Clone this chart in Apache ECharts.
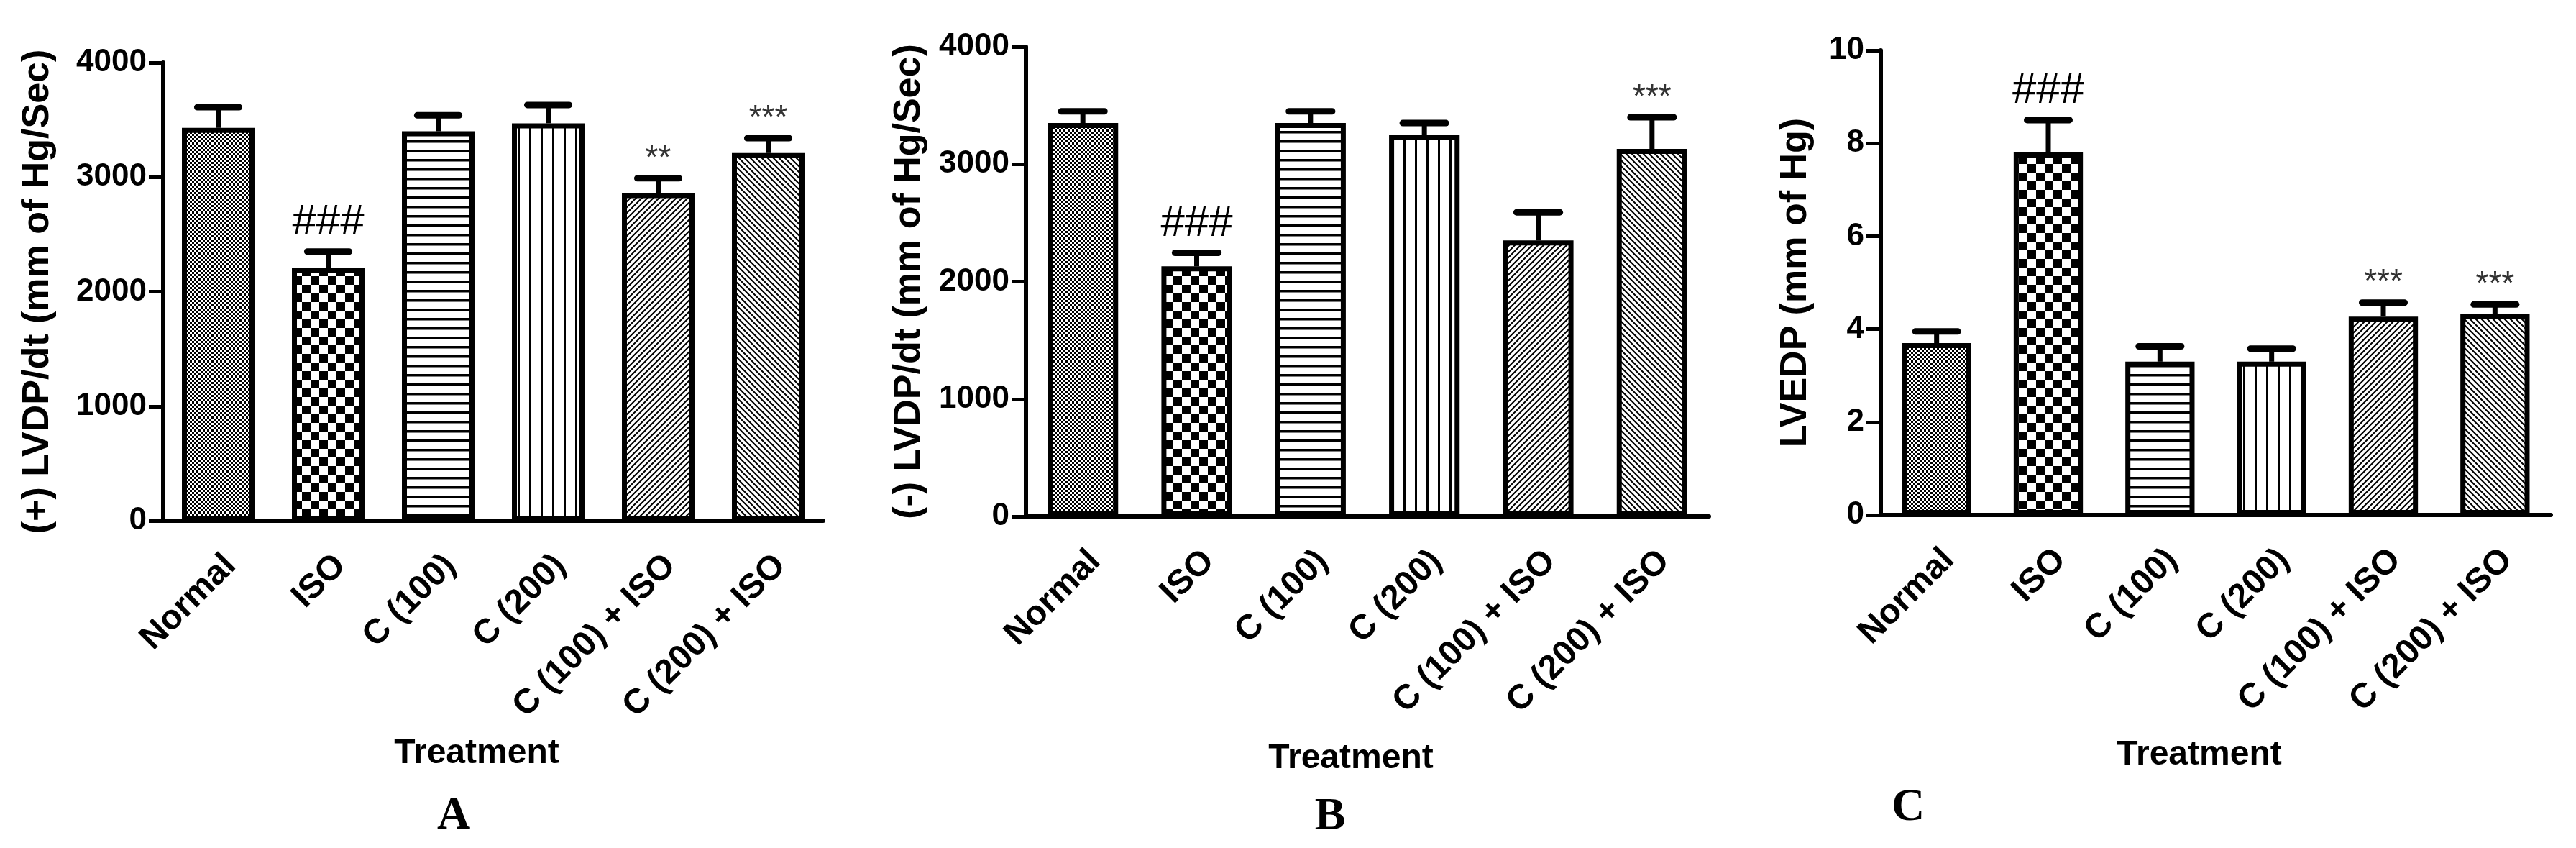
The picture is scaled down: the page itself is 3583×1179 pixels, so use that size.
<!DOCTYPE html>
<html lang="en">

<head>
  <meta charset="UTF-8">
  <title>LVDP / LVEDP</title>
  <style>
    html, body {
      margin: 0;
      width: 100%;
      height: 100%;
      background: #fff;
    }

    .chart {
      width: 3583px;
      height: 1179px;
    }
  </style>
</head>

<body>
  <div id="chart" class="chart"></div>

  <script src="https://cdn.jsdelivr.net/npm/echarts@6/dist/echarts.min.js"></script>
  <script>
    // treatment groups (same in every panel)
    var categories = ['Normal', 'ISO', 'C (100)', 'C (200)', 'C (100) + ISO', 'C (200) + ISO'];

    // A : (+) LVDP/dt, mean and SEM
    var plusLvdp = [3430, 2210, 3400, 3470, 2860, 3210];
    var plusLvdpErr = [180, 140, 140, 160, 130, 130];
    var plusLvdpSig = ['', '###', '', '', '**', '***'];

    // B : (-) LVDP/dt
    var minusLvdp = [3350, 2130, 3350, 3250, 2350, 3130];
    var minusLvdpErr = [100, 115, 100, 100, 240, 270];
    var minusLvdpSig = ['', '###', '', '', '', '***'];

    // C : LVEDP
    var lvedp = [3.7, 7.8, 3.3, 3.3, 4.27, 4.33];
    var lvedpErr = [0.25, 0.7, 0.33, 0.28, 0.3, 0.2];
    var lvedpSig = ['', '###', '', '', '***', '***'];

    // y axis ticks: min, max, interval
    var lvdpTicks = [0, 4000, 1000];
    var lvedpTicks = [0, 10, 2];

    var FONT = '"Liberation Sans", Arial, sans-serif';

    // hatch fills, one per treatment
    function tile(w, h, draw) {
      var c = document.createElement('canvas');
      c.width = w;
      c.height = h;
      var ctx = c.getContext('2d');
      ctx.fillStyle = '#fff';
      ctx.fillRect(0, 0, w, h);
      ctx.fillStyle = '#000';
      ctx.strokeStyle = '#000';
      draw(ctx, w, h);
      return { image: c, repeat: 'repeat' };
    }

    function diag(ctx, w, up) {
      ctx.lineWidth = 2;
      ctx.beginPath();
      if (up) {
        ctx.moveTo(-1, w + 1); ctx.lineTo(w + 1, -1);
        ctx.moveTo(-2, 2); ctx.lineTo(2, -2);
        ctx.moveTo(w - 2, w + 2); ctx.lineTo(w + 2, w - 2);
      } else {
        ctx.moveTo(-1, -1); ctx.lineTo(w + 1, w + 1);
        ctx.moveTo(-2, w - 2); ctx.lineTo(2, w + 2);
        ctx.moveTo(w - 2, -2); ctx.lineTo(w + 2, 2);
      }
      ctx.stroke();
    }

    var fills = [
      tile(6, 6, function (ctx) { ctx.fillRect(3, 0, 3, 3); ctx.fillRect(0, 3, 3, 3); }),
      tile(24, 24, function (ctx) { ctx.fillRect(0, 0, 12, 12); ctx.fillRect(12, 12, 12, 12); }),
      tile(4, 13, function (ctx) { ctx.fillRect(0, 0, 4, 3.5); }),
      tile(16, 4, function (ctx) { ctx.fillRect(0, 0, 3, 4); }),
      tile(8, 8, function (ctx, w) { diag(ctx, w, true); }),
      tile(8, 8, function (ctx, w) { diag(ctx, w, false); })
    ];

    var myChart = echarts.init(document.getElementById('chart'));

    function barSeries(idx, values, width) {
      return {
        type: 'bar',
        xAxisIndex: idx,
        yAxisIndex: idx,
        barWidth: width,
        z: 2,
        data: values.map(function (v, i) {
          return { value: v, itemStyle: { color: fills[i] } };
        }),
        itemStyle: { borderColor: '#000', borderWidth: 7 },
        emphasis: { disabled: true }
      };
    }

    // SEM whiskers (up only) plus the significance marks
    function errSeries(idx, values, errs, sigs) {
      return {
        type: 'custom',
        xAxisIndex: idx,
        yAxisIndex: idx,
        z: 3,
        data: values.map(function (v, i) { return [i, v, v + errs[i]]; }),
        renderItem: function (params, api) {
          var base = api.coord([api.value(0), api.value(1)]);
          var top = api.coord([api.value(0), api.value(2)]);
          var half = api.size([1, 0])[0] * 0.19;
          var kids = [{
            type: 'line',
            shape: { x1: top[0], y1: base[1], x2: top[0], y2: top[1] },
            style: { stroke: '#000', lineWidth: 7 }
          }, {
            type: 'line',
            shape: { x1: top[0] - half, y1: top[1], x2: top[0] + half, y2: top[1] },
            style: { stroke: '#000', lineWidth: 9, lineCap: 'round' }
          }];
          var s = sigs[params.dataIndex];
          if (s) {
            var hash = s.charAt(0) === '#';
            kids.push({
              type: 'text',
              style: {
                text: s,
                x: top[0],
                y: top[1] - (hash ? 40 : 27),
                align: 'center',
                verticalAlign: 'middle',
                font: hash ? '60px ' + FONT : '46px ' + FONT,
                fill: hash ? '#000' : '#333'
              }
            });
          }
          return { type: 'group', children: kids };
        }
      };
    }

    function xAxis(idx, gap) {
      return {
        type: 'category',
        gridIndex: idx,
        data: categories,
        name: 'Treatment',
        nameLocation: 'middle',
        nameGap: gap,
        nameMoveOverlap: false,
        nameTextStyle: { fontFamily: FONT, fontWeight: 'bold', fontSize: 48, color: '#000', padding: [0, 46, 0, 0] },
        axisLine: { lineStyle: { color: '#000', width: 6 } },
        axisTick: { alignWithLabel: true, length: 20, lineStyle: { color: '#000', width: 4 } },
        axisLabel: {
          rotate: 45, margin: 38, interval: 0, align: 'right', verticalAlign: 'top',
          fontFamily: FONT, fontWeight: 'bold', fontSize: 48, color: '#000'
        },
        splitLine: { show: false }
      };
    }

    function yAxis(idx, ticks, name, gap) {
      return {
        type: 'value',
        gridIndex: idx,
        min: ticks[0],
        max: ticks[1],
        interval: ticks[2],
        name: name,
        nameLocation: 'middle',
        nameGap: gap,
        nameMoveOverlap: false,
        nameTextStyle: { fontFamily: FONT, fontWeight: 'bold', fontSize: 52, color: '#000' },
        axisLine: { show: true, lineStyle: { color: '#000', width: 6 } },
        axisTick: { show: true, length: 20, lineStyle: { color: '#000', width: 5 } },
        axisLabel: {
          margin: 23, fontFamily: FONT, fontWeight: 'bold', fontSize: 44, color: '#000',
          formatter: function (v) { return String(v); }
        },
        splitLine: { show: false }
      };
    }

    var option = {
      backgroundColor: '#fff',
      animation: false,
      grid: [
        { left: 227, top: 87, width: 918, height: 637 },
        { left: 1427, top: 65, width: 950, height: 653 },
        { left: 2616, top: 70, width: 932, height: 646 }
      ],
      xAxis: [xAxis(0, 300), xAxis(1, 313), xAxis(2, 310)],
      yAxis: [
        yAxis(0, lvdpTicks, '(+) LVDP/dt (mm of Hg/Sec)', 148),
        yAxis(1, lvdpTicks, '(-) LVDP/dt (mm of Hg/Sec)', 136),
        yAxis(2, lvedpTicks, 'LVEDP (mm of Hg)', 92)
      ],
      series: [
        barSeries(0, plusLvdp, '66%'),
        errSeries(0, plusLvdp, plusLvdpErr, plusLvdpSig),
        barSeries(1, minusLvdp, '62%'),
        errSeries(1, minusLvdp, minusLvdpErr, minusLvdpSig),
        barSeries(2, lvedp, '62%'),
        errSeries(2, lvedp, lvedpErr, lvedpSig)
      ],
      graphic: [
        { type: 'text', x: 631, y: 1135, style: { text: 'A', font: 'bold 64px "Liberation Serif", serif', fill: '#000', align: 'center', verticalAlign: 'middle' } },
        { type: 'text', x: 1850, y: 1136, style: { text: 'B', font: 'bold 64px "Liberation Serif", serif', fill: '#000', align: 'center', verticalAlign: 'middle' } },
        { type: 'text', x: 2654, y: 1123, style: { text: 'C', font: 'bold 64px "Liberation Serif", serif', fill: '#000', align: 'center', verticalAlign: 'middle' } }
      ]
    };

    myChart.setOption(option);

    window.addEventListener('resize', function () {
      myChart.resize();
    });
  </script>
</body>

</html>
